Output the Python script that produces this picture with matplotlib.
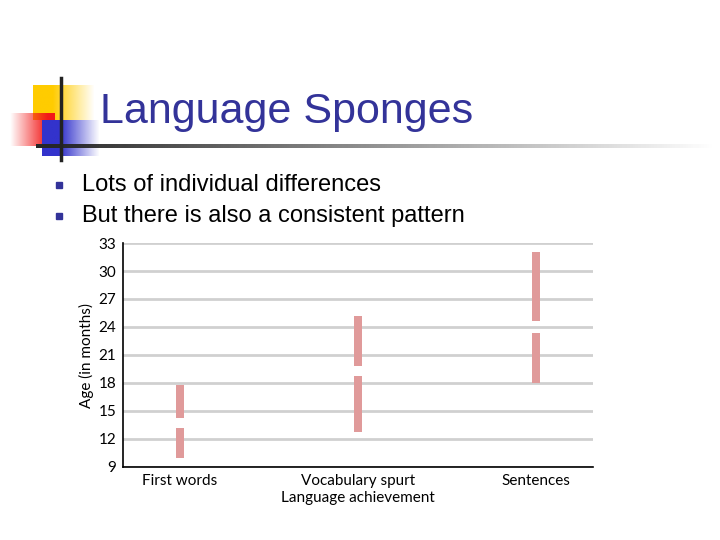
import numpy as np
import matplotlib.pyplot as plt

# slide text
title = "Language Sponges"
bullets = ["Lots of individual differences", "But there is also a consistent pattern"]

# chart data (months), two ranges per achievement
categories = ["First words", "Vocabulary spurt", "Sentences"]
lower_start = [10.0, 12.7, 18.0]
lower_end = [13.2, 18.75, 23.4]
upper_start = [14.3, 19.85, 24.6]
upper_end = [17.75, 25.2, 32.0]
yticks = [9, 12, 15, 18, 21, 24, 27, 30, 33]

W, H = 720, 540
fig = plt.figure(figsize=(7.2, 5.4), dpi=100)

# background layer in pixel coordinates for the slide decoration
bg = fig.add_axes([0, 0, 1, 1])
bg.set_xlim(0, W)
bg.set_ylim(H, 0)
bg.axis("off")

def grad(color, x0, x1, y0, y1, reverse=False, start=0):
    n = 64
    a = np.ones(n)
    a[start:] = np.linspace(1, 0, n - start)
    if reverse:
        a = a[::-1]
    img = np.zeros((1, n, 4))
    img[0, :, :3] = color
    img[0, :, 3] = a
    bg.imshow(img, extent=[x0, x1, y1, y0], aspect="auto", interpolation="bilinear", zorder=1)

grad((1.0, 0.8, 0.0), 33, 95, 85, 120, start=20)
grad((0.95, 0.1, 0.1), 10, 55, 113, 146, reverse=True, start=10)
grad((0.2, 0.2, 0.8), 42, 100, 120, 156, start=20)
bg.plot([61, 61], [78, 160], color="#222222", lw=2.5, zorder=3)
grad((0.15, 0.15, 0.15), 36, 720, 144.5, 148)

bg.text(100, 112, title, fontsize=31, color="#333399", family="Liberation Sans",
        va="center", ha="left")
for i, b in enumerate(bullets):
    y = 185 + i * 31
    bg.plot(59, y, marker="s", ms=5, color="#333399", zorder=3)
    bg.text(82, y, b, fontsize=17, family="Liberation Sans", va="center", ha="left")

# chart
ax = fig.add_axes([123 / W, 1 - 467 / H, 470 / W, 224 / H])
x = np.arange(len(categories))
bar_color = "#e09a9a"
ax.bar(x, np.array(lower_end) - np.array(lower_start), bottom=lower_start,
       width=0.05, color=bar_color, zorder=3)
ax.bar(x, np.array(upper_end) - np.array(upper_start), bottom=upper_start,
       width=0.05, color=bar_color, zorder=3)

ax.set_xlim(-0.32, 2.32)
ax.set_ylim(9, 33)
ax.set_yticks(yticks)
ax.set_xticks(x)
ax.set_xticklabels(categories)
ax.tick_params(length=0, labelsize=11, pad=5)
ax.yaxis.grid(True, color="#d0d0d0", lw=2, zorder=0)
ax.set_axisbelow(True)
for s in ["top", "right"]:
    ax.spines[s].set_visible(False)
for s in ["left", "bottom"]:
    ax.spines[s].set_color("black")
    ax.spines[s].set_linewidth(1.2)
ax.set_xlabel("Language achievement", fontsize=11, labelpad=2)
ax.set_ylabel("Age (in months)", fontsize=11, labelpad=3)
for t in ax.get_xticklabels() + ax.get_yticklabels() + [ax.xaxis.label, ax.yaxis.label]:
    t.set_family("Lato")

fig.savefig("out.png", dpi=100)
